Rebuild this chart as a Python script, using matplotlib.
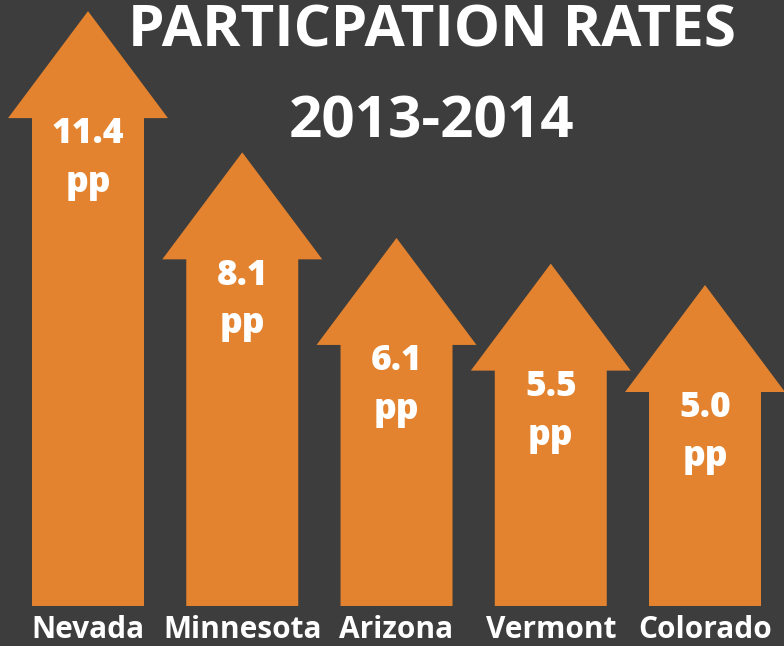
import matplotlib.pyplot as plt
from matplotlib.patches import Polygon

states = ['Nevada', 'Minnesota', 'Arizona', 'Vermont', 'Colorado']
gains = [11.4, 8.1, 6.1, 5.5, 5.0]
value_labels = ['11.4', '8.1', '6.1', '5.5', '5.0']
unit = 'pp'
title_lines = ['PARTICPATION RATES', '2013-2014']

bg = '#3d3d3d'
orange = '#e3832f'
shaft_w = 0.726
head_w = 1.037
head_len = 2.5

plt.rcParams['font.family'] = ['Open Sans', 'DejaVu Sans']

fig = plt.figure(figsize=(7.84, 6.46), dpi=100, facecolor=bg)
ax = fig.add_axes([0, 0, 1, 1])
ax.set_facecolor(bg)
ax.set_xlim(-0.5705, 4.512)
ax.set_ylim(-0.935, 14.16)
ax.axis('off')

for i, (v, lab) in enumerate(zip(gains, value_labels)):
    pts = [(i - shaft_w / 2, 0), (i + shaft_w / 2, 0), (i + shaft_w / 2, v),
           (i + head_w / 2, v), (i, v + head_len), (i - head_w / 2, v),
           (i - shaft_w / 2, v)]
    ax.add_patch(Polygon(pts, closed=True, facecolor=orange, edgecolor='none'))
    ax.text(i, v - 0.38, lab, ha='center', va='center', color='white',
            fontsize=25.5, fontweight='heavy')
    ax.text(i, v - 1.52, unit, ha='center', va='center', color='white',
            fontsize=25.5, fontweight='heavy')
    ax.text(i, -0.55, states[i], ha='center', va='center', color='white',
            fontsize=21.5, fontweight='bold')

fig.text(0.551, 0.952, title_lines[0], ha='center', va='center', color='white',
         fontsize=42, fontweight='bold')
fig.text(0.551, 0.810, title_lines[1], ha='center', va='center', color='white',
         fontsize=42, fontweight='bold')

fig.savefig('out.png', dpi=100, facecolor=bg)
